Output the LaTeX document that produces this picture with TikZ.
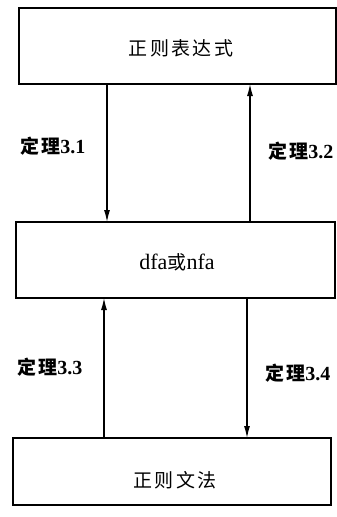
\documentclass[tikz,border=0pt]{standalone}
\usepackage{fontspec}
\setmainfont{Liberation Serif}
\newfontfamily\cjk[LetterSpace=12]{Noto Sans CJK SC}
\usetikzlibrary{arrows.meta}
\begin{document}
\begin{tikzpicture}[x=1pt,y=-1pt,
  box/.style={draw,line width=1.1pt,inner sep=0pt},
  conn/.style={line width=1.1pt,-{Latex[length=12pt,width=6pt]}},
  lbl/.style={font=\fontsize{20}{20}\selectfont\bfseries,anchor=west,inner sep=0pt},
  boxtext/.style={font=\fontsize{19}{19}\selectfont,inner sep=0pt}]
\useasboundingbox (0,0) rectangle (337,517);
\draw[box] (19,8) rectangle (336,84);
\draw[box] (16,222) rectangle (335,298);
\draw[box] (13,438) rectangle (331,505);
\node[boxtext] (t1) at (181,48) {\cjk 正则表达式};
\node[boxtext,font=\fontsize{22}{22}\selectfont] (t2) at (177,262) {dfa{\cjk\fontsize{19}{19}\selectfont 或}nfa};
\node[boxtext] (t3) at (175,480) {\cjk 正则文法};
\coordinate (a1s) at (107,84); \coordinate (a1e) at (107,222);
\coordinate (a2s) at (250,222); \coordinate (a2e) at (250,84);
\coordinate (a3s) at (104,438); \coordinate (a3e) at (104,298);
\coordinate (a4s) at (247,298); \coordinate (a4e) at (247,438);
\draw[conn] (a1s) -- (a1e);
\draw[conn] (a2s) -- (a2e);
\draw[conn] (a3s) -- (a3e);
\draw[conn] (a4s) -- (a4e);
\node[lbl] (l1) at (20,146) {{\cjk\fontsize{19}{19}\selectfont 定理}3.1};
\node[lbl] (l2) at (268,151) {{\cjk\fontsize{19}{19}\selectfont 定理}3.2};
\node[lbl] (l3) at (17,367) {{\cjk\fontsize{19}{19}\selectfont 定理}3.3};
\node[lbl] (l4) at (265,373) {{\cjk\fontsize{19}{19}\selectfont 定理}3.4};
\end{tikzpicture}
\end{document}
